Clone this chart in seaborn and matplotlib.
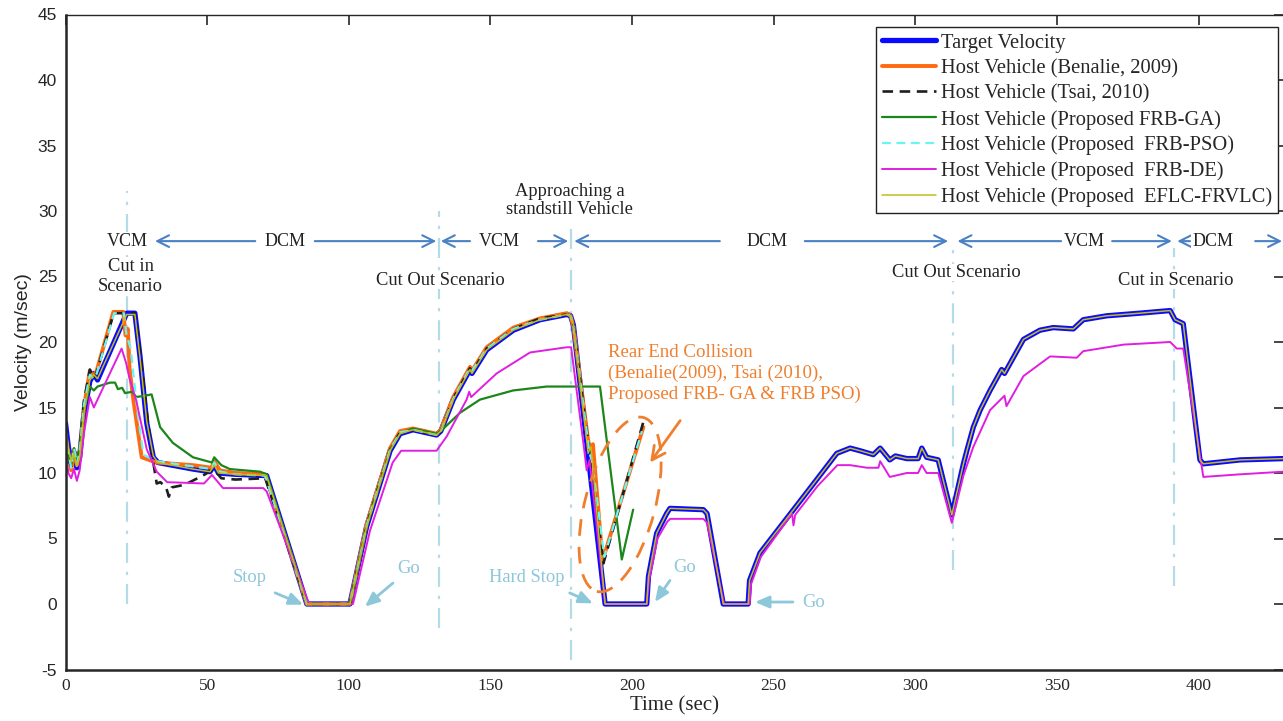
import matplotlib
matplotlib.use("Agg")
import matplotlib.pyplot as plt
import matplotlib.transforms as mtransforms
from matplotlib.patches import Ellipse
from matplotlib.lines import Line2D
import seaborn as sns
import pandas as pd

# ---------------- data (time [s], velocity [m/s]) ----------------
target_velocity = [
    (0, 13.8), (1, 12.0), (2, 10.8), (3, 11.6), (4, 10.4), (5, 11.2), (6.5, 14.5), (8.6, 17.0),
    (10, 17.6), (11.3, 17.1), (21.6, 22.2), (24.5, 22.2), (26.3, 18.9), (28.7, 13.8), (31, 11.2),
    (32.6, 10.8), (45, 10.3), (51, 10.1), (52.5, 10.6), (54, 10.0), (60, 9.9), (71, 9.8),
    (85.2, 0.0), (100.4, 0.0), (106.3, 5.9), (114.6, 11.7), (118.1, 13.0), (122.7, 13.3),
    (131, 12.9), (132.5, 13.2), (136.9, 15.6), (142.8, 17.9), (143.5, 17.6), (148.7, 19.4),
    (158.1, 20.9), (167.5, 21.7), (177, 22.1), (178.3, 22.0), (179.3, 21.3), (190.5, 0.0),
    (205.2, 0.0), (205.8, 2.1), (208.7, 5.4), (212.2, 6.9), (213.4, 7.3), (225.2, 7.2),
    (226.5, 6.9), (232.2, 0.0), (241, 0.0), (241.5, 1.8), (245.2, 3.9), (257, 7.2), (265.2, 9.5),
    (272.3, 11.5), (277, 11.9), (280.5, 11.7), (285.2, 11.4), (287.6, 11.9), (291, 11.0),
    (293, 11.3), (297, 11.1), (301, 11.1), (302.3, 11.9), (304, 11.2), (308.1, 11.0),
    (312.9, 6.8), (317, 10.7), (318.2, 11.7), (320.5, 13.5), (322.9, 14.8), (326.4, 16.3),
    (330.5, 17.9), (331.5, 17.6), (338.2, 20.2), (344, 20.9), (348.7, 21.1), (355.8, 21.0),
    (359.3, 21.7), (367.6, 22.0), (379.3, 22.2), (390, 22.4), (391.7, 21.7), (394.6, 21.4),
    (400.5, 11.0), (401.7, 10.7), (414.7, 11.0), (430, 11.1),
]

benalie_2009 = [
    (0, 13.0), (1, 11.5), (2, 10.2), (3, 11.8), (4, 10.6), (5, 11.5), (6.5, 15.0), (8.6, 17.8),
    (10, 17.4), (11, 17.8), (16.9, 22.3), (20.4, 22.3), (21.2, 20.5), (22, 21.0), (22.6, 18.0),
    (24, 15.5), (26.9, 11.2), (32, 10.8), (45, 10.6), (51.5, 10.4), (52.5, 10.9), (54.5, 10.2),
    (60, 10.0), (70.5, 9.9), (85.2, 0.0), (100.4, 0.0), (106.3, 6.1), (114.6, 11.9),
    (118.1, 13.2), (122.7, 13.4), (131, 13.0), (132.5, 13.3), (136.9, 15.8), (142.8, 18.1),
    (143.5, 17.8), (148.7, 19.6), (158.1, 21.1), (167.5, 21.8), (177, 22.2), (178.3, 22.0),
    (179.3, 21.2), (184.5, 12.5), (185.3, 11.8), (186.2, 12.2), (189.6, 3.3), (204, 13.5),
]

tsai_2010 = [
    (0, 12.5), (1, 11.0), (2, 10.5), (3, 11.5), (4, 10.8), (5, 11.8), (6.5, 15.5), (8.6, 17.9),
    (10, 17.2), (11, 17.7), (17, 22.2), (24.5, 22.2), (26.5, 19.0), (29, 14.0), (31, 10.8),
    (32.2, 9.2), (33.5, 9.3), (35.5, 8.9), (36.5, 8.2), (37.5, 8.9), (42, 9.1), (48.5, 9.8),
    (52.3, 10.3), (55, 9.6), (60, 9.5), (70.5, 9.6), (85.2, 0.0), (100.4, 0.0), (106.3, 6.0),
    (114.6, 11.8), (118.1, 13.1), (122.7, 13.3), (131, 12.9), (132.5, 13.2), (136.9, 15.7),
    (142.8, 18.0), (143.5, 17.7), (148.7, 19.5), (158.1, 21.0), (167.5, 21.8), (177, 22.1),
    (178.3, 22.0), (179.3, 21.3), (189.9, 3.1), (204, 13.9),
]

frb_ga = [
    (0, 12.8), (1, 11.2), (2, 10.6), (3, 11.9), (4, 10.9), (5, 11.9), (6.5, 14.8), (8.6, 16.6),
    (10, 16.3), (11.3, 16.6), (15.7, 16.9), (17.5, 16.9), (18.5, 16.4), (20, 16.5), (21, 16.1),
    (23.5, 16.2), (25, 15.8), (28, 15.9), (30.4, 16.0), (33.4, 13.5), (37.9, 12.3), (45, 11.2),
    (51.7, 10.8), (52.5, 11.2), (55, 10.6), (58, 10.3), (68.7, 10.1), (71, 9.9), (85.2, 0.0),
    (100.4, 0.0), (106.3, 6.0), (114.6, 11.8), (118.1, 13.0), (122.7, 13.4), (131, 13.0),
    (132.5, 13.2), (139.3, 14.6), (146.3, 15.6), (158, 16.3), (169.9, 16.6), (188.7, 16.6),
    (191.6, 11.6), (196.4, 3.4), (200.4, 7.2),
]

frb_pso = [
    (0, 13.2), (1, 11.6), (2, 10.4), (3, 11.9), (4, 10.7), (5, 11.6), (6.5, 15.2), (8.6, 17.5),
    (10, 17.2), (11, 17.6), (17.2, 22.2), (20.6, 22.2), (21.5, 20.6), (23, 19.5), (25.5, 14.5),
    (27.5, 11.4), (32, 10.9), (45, 10.5), (51.5, 10.3), (52.5, 10.8), (54.5, 10.1), (60, 9.9),
    (70.5, 9.8), (85.2, 0.0), (100.4, 0.0), (106.3, 6.0), (114.6, 11.8), (118.1, 13.1),
    (122.7, 13.3), (131, 12.9), (132.5, 13.2), (136.9, 15.7), (142.8, 18.0), (143.5, 17.8),
    (148.7, 19.5), (158.1, 21.0), (167.5, 21.7), (177, 22.1), (178.3, 22.0), (179.3, 21.2),
    (185, 11.5), (186, 10.8), (190.2, 3.6), (203.5, 13.2),
]

frb_de = [
    (0, 12.0), (1, 10.0), (2, 9.6), (3, 10.3), (4, 9.4), (5, 10.2), (6.5, 13.0), (8.6, 15.8),
    (10, 15.0), (11.3, 15.6), (19.8, 19.5), (21.4, 18.4), (22.5, 17.3), (25, 15.5), (28.7, 11.8),
    (32.2, 10.1), (35.9, 9.3), (48.9, 9.2), (51.7, 9.85), (55.6, 8.85), (69.8, 8.85), (71, 8.6),
    (86, 0.0), (101.5, 0.0), (107.5, 5.6), (115.5, 10.8), (118.5, 11.7), (131, 11.7),
    (134.6, 12.8), (141.6, 15.6), (142.5, 16.2), (143.2, 15.8), (152.2, 17.6), (164, 19.2),
    (177, 19.6), (178.5, 19.6), (183, 12.0), (184, 10.2), (185, 11.0), (190.5, 0.0),
    (205.2, 0.0), (206, 1.8), (209, 5.0), (212.5, 6.3), (213.5, 6.5), (225.2, 6.5), (226.5, 6.2),
    (232.5, 0.0), (241.5, 0.0), (242, 1.5), (245.5, 3.6), (256.5, 6.9), (257, 6.0), (257.6, 6.8),
    (265.5, 9.0), (272.5, 10.6), (277, 10.6), (283, 10.4), (287, 10.4), (287.6, 10.9),
    (291, 9.7), (297, 10.0), (301, 10.0), (302.3, 10.6), (304, 10.0), (308.1, 10.0),
    (312.9, 6.2), (317, 9.8), (320.5, 12.0), (326.4, 14.8), (331.5, 15.9), (332.2, 15.1),
    (338.2, 17.4), (347.6, 18.9), (357, 18.8), (359.3, 19.3), (373.5, 19.8), (390, 20.0),
    (392.3, 19.5), (394.6, 19.5), (401.7, 9.7), (414.7, 9.9), (430, 10.1),
]

eflc_frvlc = [
    (0, 13.6), (1, 11.9), (2, 10.9), (3, 11.5), (4, 10.5), (5, 11.3), (6.5, 14.6), (8.6, 17.1),
    (10, 17.5), (11.3, 17.2), (21.6, 22.1), (24.5, 22.1), (26.3, 18.8), (28.7, 13.9), (31, 11.3),
    (32.6, 10.8), (45, 10.3), (51, 10.1), (52.5, 10.6), (54, 10.0), (60, 9.9), (71, 9.8),
    (85.2, 0.0), (100.4, 0.0), (106.3, 5.9), (114.6, 11.7), (118.1, 13.0), (122.7, 13.3),
    (131, 12.9), (132.5, 13.2), (136.9, 15.6), (142.8, 17.9), (143.5, 17.6), (148.7, 19.4),
    (158.1, 20.9), (167.5, 21.7), (177, 22.1), (178.3, 22.0), (179.3, 21.3), (183.5, 13.5),
    (184.5, 11.5), (185.5, 12.0), (190.5, 0.0), (205.2, 0.0), (205.8, 2.1), (208.7, 5.4),
    (212.2, 6.9), (213.4, 7.3), (225.2, 7.2), (226.5, 6.9), (232.2, 0.0), (241, 0.0),
    (241.5, 1.8), (245.2, 3.9), (257, 7.2), (265.2, 9.5), (272.3, 11.5), (277, 11.9),
    (280.5, 11.7), (285.2, 11.4), (287.6, 11.9), (291, 11.0), (293, 11.3), (297, 11.1),
    (301, 11.1), (302.3, 11.9), (304, 11.2), (308.1, 11.0), (312.9, 6.8), (317, 10.7),
    (318.2, 11.7), (320.5, 13.5), (322.9, 14.8), (326.4, 16.3), (330.5, 17.9), (331.5, 17.6),
    (338.2, 20.2), (344, 20.9), (348.7, 21.1), (355.8, 21.0), (359.3, 21.7), (367.6, 22.0),
    (379.3, 22.2), (390, 22.4), (391.7, 21.7), (394.6, 21.4), (400.5, 11.0), (401.7, 10.7),
    (414.7, 11.0), (430, 11.1),
]

series_labels = [
    "Target Velocity",
    "Host Vehicle (Benalie, 2009)",
    "Host Vehicle (Tsai, 2010)",
    "Host Vehicle (Proposed FRB-GA)",
    "Host Vehicle (Proposed  FRB-PSO)",
    "Host Vehicle (Proposed  FRB-DE)",
    "Host Vehicle (Proposed  EFLC-FRVLC)",
]

x_ticks = [0, 50, 100, 150, 200, 250, 300, 350, 400]
y_ticks = [-5, 0, 5, 10, 15, 20, 25, 30, 35, 40, 45]

# vertical scenario markers (time, v_bottom, v_top)
scenario_lines = [(21.8, 0.0, 31.5), (131.8, -1.8, 30.0), (178.6, -4.3, 28.6),
                  (313.2, 2.6, 27.4), (391.5, 1.4, 27.2)]
mode_labels = [("VCM", 21.7), ("DCM", 77.5), ("VCM", 153.0), ("DCM", 247.5),
               ("VCM", 359.5), ("DCM", 405.0)]
# (tail, head) of the mode arrows
mode_arrows = [(67.0, 31.6), (88.0, 130.9), (142.8, 132.5), (166.8, 177.5),
               (231.0, 179.6), (261.0, 311.6), (351.5, 314.9), (369.5, 390.6),
               (397.0, 392.5), (420.0, 429.5)]
mode_level = 27.7

# ---------------- figure ----------------
sns.set_theme(style="white")
plt.rcParams["font.family"] = ["Liberation Serif", "DejaVu Serif"]

fig = plt.figure(figsize=(12.83, 7.21), dpi=100)
ax = fig.add_axes([65.5 / 1283, 51.5 / 721, 1218 / 1283, 655 / 721])

styles = [
    dict(color="#0a0aff", lw=3.8, ls="-"),
    dict(color="#ff6a10", lw=2.8, ls="-"),
    dict(color="#1e1e1e", lw=1.9, ls=(0, (4, 2.5))),
    dict(color="#1b861b", lw=1.6, ls="-"),
    dict(color="#6af5f5", lw=1.6, ls=(0, (4, 2.5))),
    dict(color="#e01ee0", lw=1.4, ls="-"),
    dict(color="#c2bd1a", lw=1.1, ls="-"),
]
all_series = [target_velocity, benalie_2009, tsai_2010, frb_ga, frb_pso, frb_de, eflc_frvlc]

for pts, lab, st in zip(all_series, series_labels, styles):
    df = pd.DataFrame(pts, columns=["Time", "Velocity"])
    sns.lineplot(data=df, x="Time", y="Velocity", ax=ax, estimator=None, sort=False,
                 color=st["color"], linewidth=st["lw"], linestyle=st["ls"])

# scenario vertical dash-dot lines
for t, v0, v1 in scenario_lines:
    ax.plot([t, t], [v0, v1], color="#b5dbe8", lw=1.6, ls=(0, (9, 4, 1.5, 4)), zorder=0.5)

# mode arrows and labels
arrow_col = "#4a80c4"
for tail, head in mode_arrows:
    ax.annotate("", xy=(head, mode_level), xytext=(tail, mode_level),
                arrowprops=dict(arrowstyle="->,head_length=0.7,head_width=0.35",
                                color=arrow_col, lw=1.5, shrinkA=0, shrinkB=0))
for txt, t in mode_labels:
    ax.text(t, mode_level, txt, ha="center", va="center", fontsize=13, color="#222222",
            bbox=dict(facecolor="white", edgecolor="none", pad=0.5), zorder=6)

# scenario texts
txt_kw = dict(ha="center", va="center", fontsize=13.3, color="#222222",
              bbox=dict(facecolor="white", edgecolor="none", pad=0.3), zorder=6)
ax.text(23.0, 25.0, "Cut in\nScenario", linespacing=1.3, **txt_kw)
ax.text(132.5, 24.7, "Cut Out Scenario", **txt_kw)
ax.text(178.0, 30.8, "Approaching a\nstandstill Vehicle", linespacing=1.15, **txt_kw)
ax.text(314.5, 25.3, "Cut Out Scenario", **txt_kw)
ax.text(392.0, 24.7, "Cut in Scenario", **txt_kw)

# rear-end collision annotation
coll_col = "#ef7f2d"
ax.text(191.5, 17.6, "Rear End Collision\n(Benalie(2009), Tsai (2010),\nProposed FRB- GA & FRB PSO)",
        ha="left", va="center", fontsize=13.6, color=coll_col, linespacing=1.3, zorder=6)
ell_tr = fig.dpi_scale_trans + mtransforms.ScaledTranslation(195.8, 7.6, ax.transData)
ax.add_patch(Ellipse((0, 0), 0.70, 1.80, angle=-15, transform=ell_tr, fill=False,
                     edgecolor=coll_col, lw=2.0, ls=(0, (6, 4)), zorder=7))
ax.annotate("", xy=(206.4, 10.8), xytext=(217.0, 14.0),
            arrowprops=dict(arrowstyle="->,head_length=0.8,head_width=0.4",
                            color=coll_col, lw=2.0, shrinkA=0, shrinkB=0))

# stop / go annotations
sg_col = "#8dc7da"
sg_items = [("Stop", (65.0, 2.0), (74.0, 0.85), (83.9, -0.05)),
            ("Go", (121.0, 2.7), (115.6, 1.6), (105.7, -0.2)),
            ("Hard Stop", (163.0, 2.0), (178.0, 0.85), (186.2, 0.05)),
            ("Go", (218.7, 2.8), (213.4, 1.8), (208.1, 0.15)),
            ("Go", (264.0, 0.15), (256.8, 0.15), (243.4, 0.15))]
for txt, tpos, tail, head in sg_items:
    ax.text(tpos[0], tpos[1], txt, ha="center", va="center", fontsize=13.3, color=sg_col)
    ax.annotate("", xy=head, xytext=tail,
                arrowprops=dict(arrowstyle="-|>,head_length=0.7,head_width=0.3",
                                color=sg_col, lw=2.0, shrinkA=0, shrinkB=0))

# axes styling (MATLAB-like box with inward ticks)
ax.set_xlim(0, 430)
ax.set_ylim(-5, 45)
ax.set_xticks(x_ticks)
ax.set_yticks(y_ticks)
ax.set_xticklabels([str(v) for v in x_ticks], fontsize=12.5, family=["Liberation Serif"])
ax.set_yticklabels([str(v) for v in y_ticks], fontsize=12.5, family=["Liberation Sans"])
ax.tick_params(direction="in", length=7, width=1.2, top=True, right=True, colors="#262626",
               pad=6)
for s in ["left", "bottom"]:
    ax.spines[s].set_linewidth(1.8)
    ax.spines[s].set_color("#262626")
for s in ["top", "right"]:
    ax.spines[s].set_linewidth(1.0)
    ax.spines[s].set_color("#262626")
ax.set_xlabel("Time (sec)", fontsize=15, family=["Liberation Serif"], labelpad=2)
ax.set_ylabel("Velocity (m/sec)", fontsize=14, family=["Liberation Sans"], labelpad=4)
ax.grid(False)

handles = [Line2D([0], [0], color=st["color"], lw=st["lw"], ls=st["ls"]) for st in styles]
leg = ax.legend(handles, series_labels, loc="upper right", bbox_to_anchor=(0.9955, 0.981),
                fontsize=14.8, frameon=True, fancybox=False, framealpha=1, edgecolor="#222222",
                handlelength=2.6, handletextpad=0.25, labelspacing=0.3, borderpad=0.3,
                borderaxespad=0)
leg.get_frame().set_linewidth(1.0)
leg.set_zorder(10)

fig.savefig("out.png", dpi=100)
